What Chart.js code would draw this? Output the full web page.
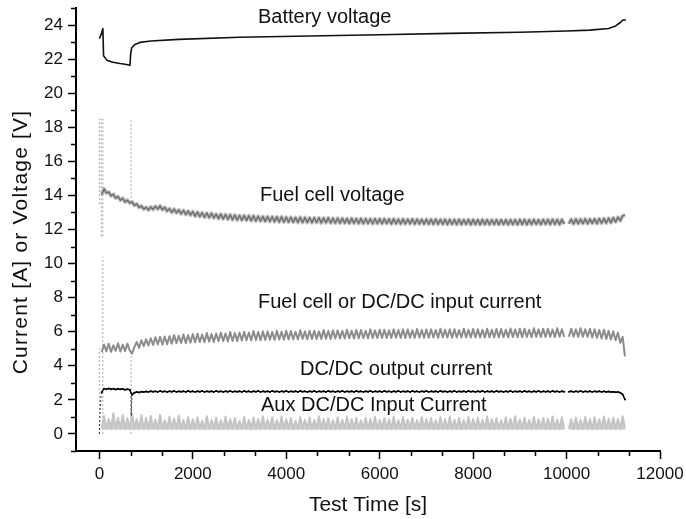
<!DOCTYPE html>
<html><head><meta charset="utf-8">
<script src="https://cdn.jsdelivr.net/npm/chart.js@4/dist/chart.umd.min.js"></script>
<style>html,body{margin:0;padding:0;background:#fff}canvas{display:block}</style>
</head><body>
<canvas id="c" width="686" height="519"></canvas>
<script>
// ---- tick labels ----
const xTicks = [0,2000,4000,6000,8000,10000,12000];
const xMinor = [667,1333,2667,3333,4667,5333,6667,7333,8667,9333,10667,11333];
const yTicks = [0,2,4,6,8,10,12,14,16,18,20,22,24];
const yMinor = [-1,1,3,5,7,9,11,13,15,17,19,21,23,25];

// ---- battery voltage ----
const batT = [0,40,75,90,160,290,440,550,655,670,690,760,870,1100,1700,3000,4500,6000,7500,9000,10000,10500,10900,11050,11150,11210,11270];
const batV = [23.2,23.45,23.8,22.2,21.94,21.82,21.74,21.7,21.64,22.3,22.65,22.86,22.98,23.06,23.16,23.28,23.36,23.43,23.51,23.58,23.65,23.7,23.8,23.95,24.15,24.3,24.3];

// ---- sampling times of the logged (noisy) channels ----
const tLog = [
50,100,150,200,250,300,350,400,450,500,
550,600,650,700,750,800,850,900,950,1000,
1050,1100,1150,1200,1250,1300,1350,1400,1450,1500,
1550,1600,1650,1700,1750,1800,1850,1900,1950,2000,
2050,2100,2150,2200,2250,2300,2350,2400,2450,2500,
2550,2600,2650,2700,2750,2800,2850,2900,2950,3000,
3050,3100,3150,3200,3250,3300,3350,3400,3450,3500,
3550,3600,3650,3700,3750,3800,3850,3900,3950,4000,
4050,4100,4150,4200,4250,4300,4350,4400,4450,4500,
4550,4600,4650,4700,4750,4800,4850,4900,4950,5000,
5050,5100,5150,5200,5250,5300,5350,5400,5450,5500,
5550,5600,5650,5700,5750,5800,5850,5900,5950,6000,
6050,6100,6150,6200,6250,6300,6350,6400,6450,6500,
6550,6600,6650,6700,6750,6800,6850,6900,6950,7000,
7050,7100,7150,7200,7250,7300,7350,7400,7450,7500,
7550,7600,7650,7700,7750,7800,7850,7900,7950,8000,
8050,8100,8150,8200,8250,8300,8350,8400,8450,8500,
8550,8600,8650,8700,8750,8800,8850,8900,8950,9000,
9050,9100,9150,9200,9250,9300,9350,9400,9450,9500,
9550,9600,9650,9700,9750,9800,9850,9900,9950,10000,
10050,10100,10150,10200,10250,10300,10350,10400,10450,10500,
10550,10600,10650,10700,10750,10800,10850,10900,10950,11000,
11050,11100,11150,11200,11250];

// ---- fuel cell voltage ----
const fcVolt = [
14.05,14.38,14.15,14.2,13.98,14.06,13.84,13.93,13.72,13.83,
13.62,13.72,13.55,13.62,13.42,13.5,13.3,13.38,13.2,13.3,
13.15,13.32,13.18,13.36,13.2,13.38,13.16,13.3,13.08,13.22,
13.0,13.2,12.98,13.15,12.92,13.12,12.88,13.08,12.85,13.05,
12.78,13.02,12.76,12.98,12.72,12.96,12.7,12.95,12.68,12.9,
12.64,12.9,12.62,12.88,12.6,12.86,12.58,12.84,12.56,12.82,
12.55,12.82,12.54,12.8,12.52,12.8,12.5,12.78,12.5,12.76,
12.48,12.76,12.47,12.75,12.46,12.74,12.45,12.74,12.44,12.72,
12.44,12.72,12.43,12.7,12.42,12.71,12.41,12.7,12.42,12.69,
12.4,12.68,12.41,12.69,12.39,12.67,12.4,12.68,12.38,12.66,
12.38,12.66,12.37,12.65,12.38,12.64,12.36,12.65,12.37,12.63,
12.36,12.64,12.35,12.63,12.36,12.62,12.34,12.63,12.35,12.62,
12.34,12.62,12.35,12.61,12.33,12.62,12.34,12.6,12.33,12.61,
12.33,12.6,12.34,12.61,12.32,12.6,12.33,12.59,12.32,12.6,
12.32,12.59,12.31,12.6,12.32,12.58,12.31,12.59,12.3,12.58,
12.31,12.58,12.3,12.59,12.3,12.57,12.31,12.58,12.29,12.58,
12.3,12.57,12.29,12.58,12.3,12.57,12.29,12.56,12.3,12.57,
12.29,12.57,12.3,12.56,12.29,12.57,12.3,12.57,12.29,12.58,
12.3,12.58,12.29,12.57,12.3,12.58,12.31,12.57,12.3,12.58,
12.31,12.58,12.3,12.59,12.31,12.58,12.3,12.58,12.32,null,
12.34,12.6,12.33,12.61,12.34,12.6,12.35,12.62,12.34,12.61,
12.36,12.62,12.35,12.63,12.37,12.64,12.38,12.66,12.4,12.68,
12.45,12.72,12.52,12.8,12.85];

// ---- fuel cell (DC/DC input) current ----
const fcCurr = [
4.8,5.25,4.85,5.3,4.82,5.2,4.88,5.32,4.84,5.24,
4.86,5.3,4.9,4.72,5.1,5.4,5.05,5.5,5.15,5.55,
5.2,5.62,5.22,5.68,5.25,5.7,5.24,5.72,5.27,5.74,
5.3,5.8,5.32,5.76,5.34,5.84,5.33,5.8,5.36,5.86,
5.38,5.88,5.4,5.84,5.38,5.92,5.42,5.86,5.4,5.9,
5.44,5.94,5.45,5.9,5.43,5.98,5.46,5.92,5.45,5.96,
5.48,6.0,5.5,5.95,5.49,6.04,5.51,5.98,5.5,6.02,
5.52,6.02,5.53,5.98,5.52,6.06,5.54,6.0,5.53,6.05,
5.55,6.04,5.56,6.0,5.55,6.08,5.57,6.02,5.56,6.06,
5.57,6.06,5.58,6.02,5.57,6.1,5.59,6.04,5.58,6.08,
5.6,6.08,5.61,6.05,5.6,6.12,5.62,6.06,5.61,6.1,
5.62,6.1,5.63,6.06,5.62,6.14,5.64,6.08,5.63,6.12,
5.63,6.12,5.64,6.08,5.63,6.15,5.65,6.1,5.64,6.13,
5.64,6.13,5.65,6.09,5.64,6.16,5.66,6.1,5.65,6.14,
5.65,6.14,5.66,6.1,5.65,6.17,5.67,6.11,5.66,6.15,
5.65,6.15,5.66,6.1,5.66,6.18,5.67,6.12,5.66,6.16,
5.66,6.15,5.67,6.11,5.66,6.18,5.68,6.12,5.67,6.16,
5.67,6.16,5.68,6.12,5.67,6.19,5.69,6.13,5.68,6.17,
5.68,6.17,5.69,6.12,5.68,6.2,5.7,6.14,5.69,6.18,
5.69,6.18,5.7,6.13,5.69,6.2,5.7,6.15,5.7,null,
5.7,6.18,5.71,6.14,5.7,6.2,5.71,6.15,5.7,6.17,
5.66,6.15,5.65,6.1,5.6,6.12,5.58,6.05,5.55,6.02,
5.5,5.95,5.35,5.7,4.55];

// ---- DC/DC output current ----
const dcOut = [
2.45,2.66,2.63,2.67,2.62,2.66,2.61,2.65,2.62,2.64,
2.6,2.63,2.59,2.3,2.42,2.46,2.44,2.48,2.46,2.49,
2.47,2.51,2.48,2.5,2.47,2.52,2.48,2.5,2.47,2.51,
2.48,2.52,2.47,2.5,2.48,2.51,2.47,2.52,2.48,2.5,
2.47,2.51,2.48,2.52,2.47,2.5,2.48,2.51,2.47,2.52,
2.48,2.5,2.47,2.51,2.48,2.52,2.47,2.5,2.48,2.51,
2.47,2.52,2.48,2.5,2.47,2.51,2.48,2.52,2.47,2.5,
2.48,2.51,2.47,2.52,2.48,2.5,2.47,2.51,2.48,2.52,
2.47,2.5,2.48,2.51,2.47,2.52,2.48,2.5,2.47,2.51,
2.48,2.52,2.47,2.5,2.48,2.51,2.47,2.52,2.48,2.5,
2.47,2.51,2.48,2.52,2.47,2.5,2.48,2.51,2.47,2.52,
2.48,2.5,2.47,2.51,2.48,2.52,2.47,2.5,2.48,2.51,
2.47,2.52,2.48,2.5,2.47,2.51,2.48,2.52,2.47,2.5,
2.48,2.51,2.47,2.52,2.48,2.5,2.47,2.51,2.48,2.52,
2.47,2.5,2.48,2.51,2.47,2.52,2.48,2.5,2.47,2.51,
2.48,2.52,2.47,2.5,2.48,2.51,2.47,2.52,2.48,2.5,
2.47,2.51,2.48,2.52,2.47,2.5,2.48,2.51,2.47,2.52,
2.48,2.5,2.47,2.51,2.48,2.52,2.47,2.5,2.48,2.51,
2.47,2.52,2.48,2.5,2.47,2.51,2.48,2.52,2.47,2.5,
2.48,2.51,2.47,2.52,2.48,2.5,2.47,2.51,2.48,null,
2.48,2.51,2.47,2.5,2.48,2.52,2.47,2.5,2.48,2.51,
2.47,2.5,2.48,2.51,2.47,2.5,2.46,2.49,2.46,2.48,
2.45,2.46,2.42,2.32,2.02];

// ---- Aux DC/DC input current ----
const auxCurr = [
0.3,1.05,0.33,0.88,0.29,1.22,0.34,0.95,0.3,1.12,
0.31,0.92,0.29,1.18,0.33,0.86,0.3,1.1,0.31,0.94,
0.3,1.06,0.32,0.84,0.29,1.12,0.31,0.8,0.3,1.02,
0.32,0.9,0.3,1.08,0.31,0.82,0.29,1.0,0.32,0.86,
0.3,0.98,0.31,0.78,0.29,1.04,0.3,0.84,0.31,0.96,
0.29,0.8,0.31,1.02,0.3,0.86,0.32,0.94,0.29,0.78,
0.31,1.0,0.3,0.82,0.29,0.96,0.31,0.88,0.3,1.04,
0.3,0.84,0.32,0.98,0.29,0.8,0.31,1.02,0.3,0.86,
0.31,0.94,0.29,0.78,0.3,1.0,0.32,0.84,0.29,0.96,
0.3,0.82,0.31,1.04,0.29,0.88,0.3,0.92,0.31,0.8,
0.29,0.98,0.3,0.84,0.32,1.02,0.29,0.86,0.3,0.94,
0.31,0.8,0.3,0.96,0.29,0.88,0.31,1.0,0.3,0.82,
0.3,0.94,0.31,0.86,0.29,1.02,0.3,0.8,0.32,0.98,
0.29,0.84,0.3,0.96,0.31,0.82,0.29,1.0,0.3,0.88,
0.31,0.92,0.29,0.8,0.3,0.98,0.32,0.86,0.29,1.02,
0.3,0.84,0.31,0.94,0.29,0.82,0.3,1.0,0.31,0.88,
0.29,0.96,0.3,0.84,0.32,1.02,0.29,0.86,0.3,0.92,
0.31,0.8,0.3,0.98,0.29,0.88,0.31,1.04,0.3,0.84,
0.3,0.96,0.31,0.82,0.29,1.0,0.3,0.86,0.32,0.94,
0.29,0.88,0.3,1.02,0.31,0.84,0.29,0.98,0.3,null,
0.3,0.86,0.31,0.96,0.29,0.84,0.3,1.0,0.31,0.88,
0.29,0.98,0.3,0.86,0.32,1.02,0.29,0.9,0.3,0.96,
0.31,0.88,0.29,1.04,0.32];

// ---- start-up / restart transients (sparse samples) ----
const trGrayT = [0,0,0, 75,75,75, 0,0,0, 40,40,40, 75,75,75, 680,680,680, 680,680];
const trGrayV = [0,5.0,null, 0,10.4,null, 13.5,18.5,null, 11.6,18.5,null, 11.6,18.5,null, 0,4.9,null, 13.6,18.4];
const trDarkT = [0,15,35,50, 50, 680,680,700];
const trDarkV = [0,1.4,2.2,2.45, null, 2.45,1.05,2.3];

// ---- in-plot labels ----
const labelText = ['Battery voltage','Fuel cell voltage','Fuel cell or DC/DC input current','DC/DC output current','Aux DC/DC Input Current'];
const labelT = [3395, 3438, 3395, 4294, 3460];
const labelV = [24.47, 14.0, 7.7, 3.76, 1.7];

const FONT = 'Liberation Sans, Arial, sans-serif';
const pts = (ts, vs) => ts.map((t, i) => ({x: t, y: vs[i]}));

const minorTicks = {
  id: 'minorTicks',
  afterDraw(chart) {
    const {ctx, scales: {x, y}, chartArea: a} = chart;
    ctx.save();
    ctx.strokeStyle = '#000'; ctx.lineWidth = 1.5;
    ctx.beginPath();
    xMinor.forEach(v => { const p = Math.round(x.getPixelForValue(v)) + 0.5; ctx.moveTo(p, a.bottom); ctx.lineTo(p, a.bottom + 5); });
    yMinor.forEach(v => { const p = Math.round(y.getPixelForValue(v)) + 0.5; ctx.moveTo(a.left, p); ctx.lineTo(a.left - 5, p); });
    ctx.stroke();
    ctx.restore();
  }
};
const inPlotLabels = {
  id: 'inPlotLabels',
  afterDatasetsDraw(chart) {
    const {ctx, scales: {x, y}} = chart;
    ctx.save();
    ctx.font = '20px ' + FONT; ctx.fillStyle = '#111';
    ctx.textAlign = 'left'; ctx.textBaseline = 'middle';
    labelText.forEach((s, i) => ctx.fillText(s, x.getPixelForValue(labelT[i]), y.getPixelForValue(labelV[i])));
    ctx.restore();
  }
};
const yTitle = {
  id: 'yTitle',
  afterDraw(chart) {
    const {ctx} = chart;
    ctx.save();
    ctx.translate(21, 242); ctx.rotate(-Math.PI / 2);
    ctx.font = '21px ' + FONT; ctx.fillStyle = '#111';
    try { ctx.letterSpacing = '1.2px'; } catch (e) {}
    ctx.textAlign = 'center'; ctx.textBaseline = 'middle';
    ctx.fillText('Current [A] or Voltage [V]', 0, 0);
    ctx.restore();
  }
};

const lineDs = (data, color, width, order, extra) => Object.assign({
  data, borderColor: color, backgroundColor: color, borderWidth: width, pointRadius: 0,
  fill: false, tension: 0, spanGaps: false, order, borderJoinStyle: 'round'
}, extra || {});

new Chart(document.getElementById('c'), {
  type: 'line',
  data: {
    datasets: [
      lineDs(pts(trGrayT, trGrayV), '#a8a8a8', 1, 9, {borderDash: [2, 2]}),
      lineDs(pts(tLog, auxCurr), '#c4c4c4', 2, 8, {fill: {value: 0.25}, backgroundColor: '#cfcfcf'}),
      lineDs(pts(tLog, fcVolt), '#c2c2c2', 4, 7),
      lineDs(pts(tLog, fcVolt), '#6e6e6e', 1.5, 6),
      lineDs(pts(tLog, fcCurr), '#8c8c8c', 2, 5),
      lineDs(pts(trDarkT, trDarkV), '#333', 1, 4, {borderDash: [2, 2]}),
      lineDs(pts(tLog, dcOut), '#000', 1.5, 3, {pointRadius: 1, pointBorderWidth: 0, pointBackgroundColor: '#000'}),
      lineDs(pts(batT, batV), '#111', 1.6, 2)
    ]
  },
  options: {
    responsive: false, animation: false, devicePixelRatio: 1,
    layout: {padding: {left: 0, right: 26, top: 8, bottom: 0}},
    plugins: {legend: {display: false}, tooltip: {enabled: false}},
    scales: {
      x: {
        type: 'linear', min: -500, max: 12000,
        afterBuildTicks: s => { s.ticks = xTicks.map(v => ({value: v})); },
        afterFit: s => { s.height = 68; s.paddingLeft = 0; s.paddingRight = 0; },
        ticks: {callback: v => String(v), font: {family: FONT, size: 17}, color: '#111', padding: 5, maxRotation: 0, autoSkip: false},
        grid: {drawOnChartArea: false, drawTicks: true, tickLength: 8, tickColor: '#000', tickWidth: 1.5},
        border: {display: true, color: '#000', width: 2},
        title: {display: true, text: 'Test Time [s]', font: {family: FONT, size: 21}, color: '#111', padding: {top: 0, bottom: 1}}
      },
      y: {
        type: 'linear', min: -1, max: 25,
        afterBuildTicks: s => { s.ticks = yTicks.map(v => ({value: v})); },
        afterFit: s => { s.width = 76; s.paddingTop = 0; s.paddingBottom = 0; },
        ticks: {callback: v => String(v), font: {family: FONT, size: 17}, color: '#111', padding: 5, autoSkip: false},
        grid: {drawOnChartArea: false, drawTicks: true, tickLength: 8, tickColor: '#000', tickWidth: 1.5},
        border: {display: true, color: '#000', width: 2}
      }
    }
  },
  plugins: [minorTicks, inPlotLabels, yTitle]
});
</script>
</body></html>
